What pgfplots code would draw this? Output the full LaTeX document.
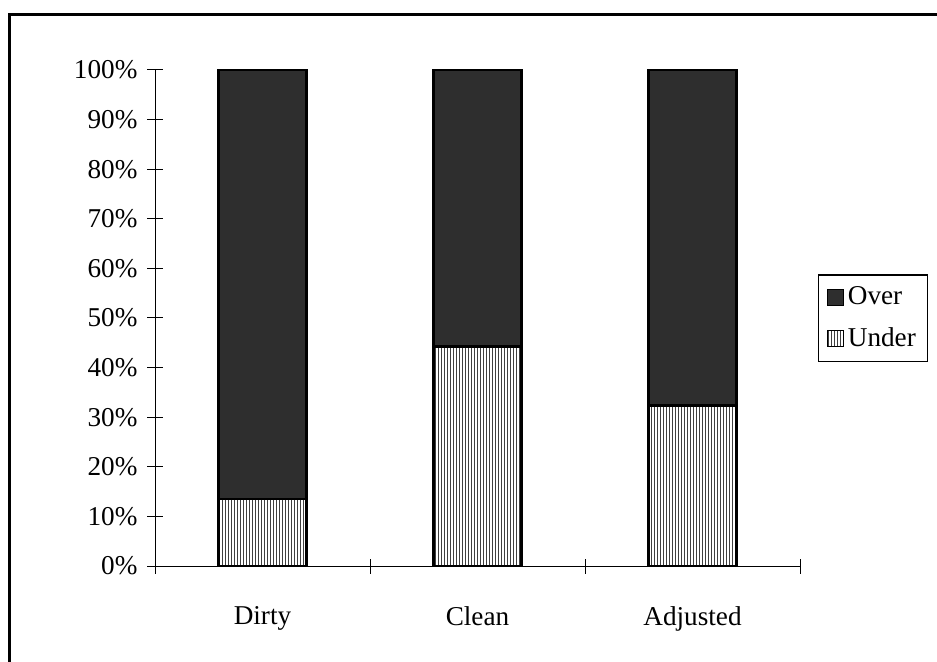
\documentclass[border=0pt]{standalone}
\usepackage{fontspec}
\setmainfont{Liberation Serif}
\usepackage{pgfplots}
\pgfplotsset{compat=1.18}
\usetikzlibrary{patterns.meta}
\begin{document}
\begin{tikzpicture}
\useasboundingbox (0,0) rectangle (468.5pt,-331pt);
\draw[line width=1.5pt] (4.5pt,-331pt) -- (4.5pt,-7.5pt) -- (468.5pt,-7.5pt);
\begin{axis}[
 at={(77.5pt,-283pt)}, anchor=south west,
 scale only axis, width=322.5pt, height=248pt,
 ybar stacked, bar width=44pt,
 xmin=-0.5,xmax=2.5,ymin=0,ymax=100,
 axis x line*=bottom, axis y line*=left,
 axis line style={-, line width=0.5pt},
 xtick={-0.5,0.5,1.5,2.5}, x tick label as interval,
 xticklabels={Dirty,Clean,Adjusted},
 ytick={0,10,...,100},
 yticklabel={\pgfmathprintnumber{\tick}\%},
 /pgf/number format/assume math mode=true,
 tick align=center, major tick length=7.5pt,
 tick style={black, line width=0.5pt},
 ticklabel style={font=\fontsize{13.6}{16}\selectfont},
 xticklabel style={yshift=-13pt},
 yticklabel style={xshift=-1.5pt},
 clip=false,
 reverse legend,
 legend style={at={(1.028,0.588)}, anchor=north west, draw=black, line width=0.6pt, font=\fontsize{13.6}{16}\selectfont, row sep=6pt, inner sep=4pt},
 legend cell align=left,
 legend image code/.code={\draw[#1, line width=0.6pt] (0pt,-4pt) rectangle (8pt,4pt);},
]
\addplot[draw=black, line width=1.3pt, pattern={Lines[angle=90,distance=1.5pt,line width=0.45pt]}, pattern color=black!75] coordinates {(0,13.5) (1,44.2) (2,32.3)};
\addplot[draw=black, line width=1.3pt, fill=black!82] coordinates {(0,86.5) (1,55.8) (2,67.7)};
\legend{Under,Over}
\end{axis}
\end{tikzpicture}
\end{document}
